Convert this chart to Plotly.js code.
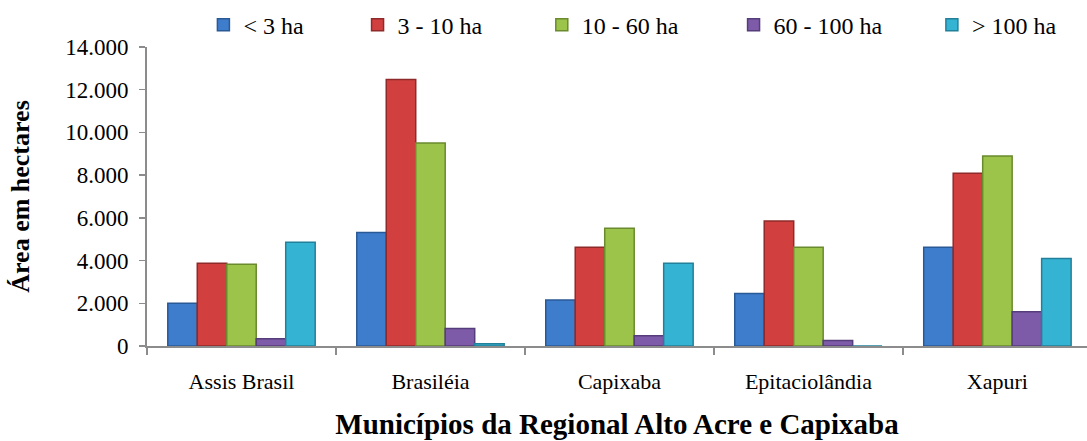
<!DOCTYPE html>
<html>
<head>
<meta charset="utf-8">
<script src="https://cdn.plot.ly/plotly-3.0.1.min.js"></script>
<style>html,body{margin:0;padding:0;overflow:hidden;background:#fff;}</style>
</head>
<body>
<div id="chart" style="width:1087px;height:441px;"></div>
<script>
const categories = ["Assis Brasil", "Brasiléia", "Capixaba", "Epitaciolândia", "Xapuri"];
const seriesNames = ["< 3 ha", "3 - 10 ha", "10 - 60 ha", "60 - 100 ha", "> 100 ha"];
const lt3 = [2000, 5320, 2150, 2460, 4620];
const from3to10 = [3870, 12480, 4620, 5850, 8090];
const from10to60 = [3830, 9500, 5510, 4620, 8900];
const from60to100 = [340, 820, 480, 260, 1600];
const gt100 = [4860, 110, 3880, 0, 4100];
const seriesValues = [lt3, from3to10, from10to60, from60to100, gt100];
const fillColors = ["#3E7DCC", "#D1403F", "#9CC34A", "#7E5BA9", "#35B3D3"];
const edgeColors = ["#2A5A96", "#8F2A2A", "#6A8A2E", "#553C7A", "#23809A"];
const yTicks = [0, 2000, 4000, 6000, 8000, 10000, 12000, 14000];

// legend anchor positions (paper fraction) for each series' own legend
const legendX = [0.0600, 0.2240, 0.4200, 0.6240, 0.8350];

const legendIds = ['legend', 'legend2', 'legend3', 'legend4', 'legend5'];
const traces = seriesNames.map((n, i) => ({
  type: 'bar',
  name: n,
  x: categories,
  y: seriesValues[i],
  legend: legendIds[i],
  marker: {color: fillColors[i], line: {color: edgeColors[i], width: 1.5}},
  hoverinfo: 'x+y+name'
}));

const serif = 'Liberation Serif, Times New Roman, serif';
const layout = {
  width: 1087, height: 441,
  margin: {l: 147, r: 0, t: 47, b: 95, pad: 0},
  paper_bgcolor: '#fff', plot_bgcolor: '#fff',
  separators: ',.',
  barmode: 'group',
  bargap: 0.22,
  bargroupgap: 0,
  font: {family: serif, size: 22, color: '#000'},
  showlegend: true,
  xaxis: {
    type: 'category',
    range: [-0.5, 4.474],
    showline: true, linecolor: '#8c8c8c', linewidth: 2,
    ticks: 'outside', ticklen: 7, tickcolor: '#8c8c8c', tickwidth: 1.5,
    tickson: 'boundaries',
    ticklabelstandoff: 15,
    tickfont: {family: serif, size: 22, color: '#000'},
    showgrid: false, zeroline: false,
    title: {text: '<b>Municípios da Regional Alto Acre e Capixaba</b>', font: {family: serif, size: 29, color: '#000'}, standoff: 20}
  },
  yaxis: {
    range: [0, 14000],
    tickvals: yTicks,
    tickformat: ',d',
    showline: true, linecolor: '#8c8c8c', linewidth: 2,
    ticks: 'outside', ticklen: 6, tickcolor: '#8c8c8c', tickwidth: 1.5,
    ticklabelstandoff: 6,
    tickfont: {family: serif, size: 23, color: '#000'},
    showgrid: false, zeroline: false,
    title: {text: '<b>Área em hectares</b>', font: {family: serif, size: 26, color: '#000'}, standoff: 28}
  }
};
legendIds.forEach((id, i) => {
  layout[id] = {
    orientation: 'h', x: legendX[i], xanchor: 'left', y: 1.148, yanchor: 'top',
    font: {family: serif, size: 24, color: '#000'},
    itemwidth: 30, bgcolor: 'rgba(0,0,0,0)', borderwidth: 0
  };
});

Plotly.newPlot('chart', traces, layout, {displayModeBar: false, staticPlot: true});
</script>
</body>
</html>
